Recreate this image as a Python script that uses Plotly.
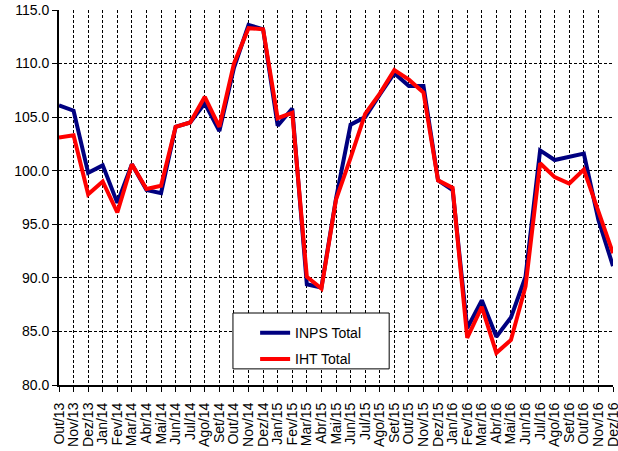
import plotly.graph_objects as go

months = ["Out/13", "Nov/13", "Dez/13",
          "Jan/14", "Fev/14", "Mar/14", "Abr/14", "Mai/14", "Jun/14", "Jul/14", "Ago/14", "Set/14", "Out/14", "Nov/14", "Dez/14",
          "Jan/15", "Fev/15", "Mar/15", "Abr/15", "Mai/15", "Jun/15", "Jul/15", "Ago/15", "Set/15", "Out/15", "Nov/15", "Dez/15",
          "Jan/16", "Fev/16", "Mar/16", "Abr/16", "Mai/16", "Jun/16", "Jul/16", "Ago/16", "Set/16", "Out/16", "Nov/16", "Dez/16"]

inps_total = [106.1, 105.6, 99.8,
              100.5, 97.0, 100.6, 98.2, 97.9, 104.1, 104.5, 106.3, 103.7, 109.6, 113.6, 113.2,
              104.2, 105.8, 89.4, 89.1, 97.4, 104.3, 105.0, 107.1, 109.1, 107.9, 107.9, 99.1,
              98.2, 85.3, 87.9, 84.5, 86.3, 90.1, 101.9, 101.0, 101.3, 101.6, 95.4, 91.1]

iht_total = [103.1, 103.3, 97.8,
             99.0, 96.1, 100.6, 98.3, 98.6, 104.1, 104.5, 106.9, 104.1, 110.0, 113.3, 113.2,
             104.9, 105.4, 90.1, 89.0, 97.3, 101.2, 105.3, 107.2, 109.4, 108.5, 107.3, 99.1,
             98.4, 84.4, 87.3, 83.0, 84.2, 89.2, 100.7, 99.4, 98.8, 100.1, 96.3, 92.3]

y_ticks = [80, 85, 90, 95, 100, 105, 110, 115]

fig = go.Figure()
fig.add_trace(go.Scatter(x=months, y=inps_total, mode="lines", name="INPS Total",
                         line=dict(color="#000080", width=4), legendgroup="a"))
fig.add_trace(go.Scatter(x=months, y=iht_total, mode="lines", name="IHT Total",
                         line=dict(color="#FF0000", width=4), legendgroup="b"))

# legend frame
fig.add_shape(type="rect", xref="paper", yref="paper",
              x0=0.314, x1=0.596, y0=0.043, y1=0.192,
              fillcolor="white", line=dict(color="black", width=1), layer="above")

fig.update_layout(
    width=618, height=451,
    margin=dict(l=59, r=5, t=10, b=66),
    paper_bgcolor="white", plot_bgcolor="white",
    font=dict(family="Liberation Sans, Arial, sans-serif", color="black", size=13),
    showlegend=True,
    legend=dict(x=0.354, y=0.181, xanchor="left", yanchor="top",
                bgcolor="rgba(0,0,0,0)", borderwidth=0,
                font=dict(size=14), tracegroupgap=5, itemwidth=30),
    xaxis=dict(type="category", range=[0, len(months) - 1], automargin=False,
               tickmode="array", tickvals=months, ticktext=months,
               tickangle=-90, tickfont=dict(size=14), ticklabeloverflow="allow",
               ticklabelstandoff=5,
               showgrid=True, gridcolor="black", griddash="3px,2px", gridwidth=1,
               showline=True, linecolor="black", linewidth=2,
               ticks="outside", ticklen=5, tickcolor="black", tickwidth=1,
               zeroline=False),
    yaxis=dict(range=[80, 115], tickvals=y_ticks, automargin=False,
               ticktext=[f"{v:.1f}" for v in y_ticks], tickfont=dict(size=14),
               showgrid=True, gridcolor="black", griddash="3px,2px", gridwidth=1,
               showline=True, linecolor="black", linewidth=2,
               ticks="outside", ticklen=5, tickcolor="black", tickwidth=1,
               zeroline=False),
)

# remove the browser's default 8px page margin so the figure sits at the window's corner
fig.write_html("out.html", config={"displayModeBar": False},
               post_script="document.body.style.margin='0px';")
